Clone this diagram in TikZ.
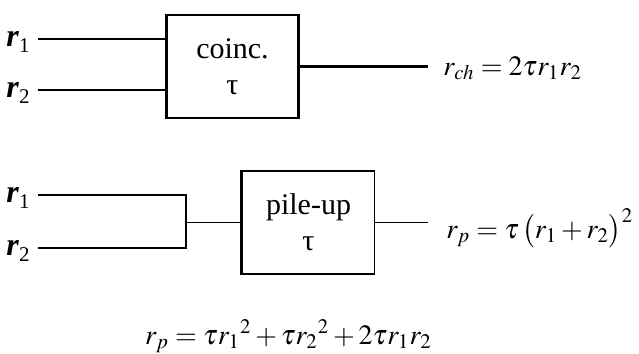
\documentclass[tikz,border=0pt]{standalone}
\usepackage{mathptmx}
\usepackage{fontspec}
\setmainfont{Liberation Serif}
\usetikzlibrary{positioning, calc}
\newcommand{\rin}[1]{\textbf{\textit{r}}\raisebox{-0.45ex}{\fontsize{10.5}{11}\selectfont #1}}

\begin{document}
\begin{tikzpicture}[x=0.5pt, y=-0.5pt,
  gate/.style={rectangle, draw=black, line width=#1, fill=white, align=center,
               minimum width=66pt, minimum height=51.5pt, inner sep=2pt,
               font=\fontsize{15}{18}\selectfont},
  gate/.default=1.2pt,
  wire/.style={line width=#1, black},
  wire/.default=0.8pt,
  inlbl/.style={anchor=east, inner sep=0pt, font=\fontsize{16}{20}\selectfont},
  eqn/.style={anchor=base west, inner sep=0pt, font=\fontsize{14}{17}\selectfont}
]
  \useasboundingbox (0,0) rectangle (639,354);

  % coincidence stage
  \node[gate] (coinc) at (232.5,66.5) {coinc.\\τ};
  \coordinate (inA) at (38,39);
  \coordinate (inB) at (38,90);
  \coordinate (outA) at (428,66.5);
  \node[inlbl] (rA) at ($(inA)+(-8,3)$) {\rin{1}};
  \node[inlbl] (rB) at ($(inB)+(-8,3)$) {\rin{2}};
  \draw[wire] (inA) -- (inA -| coinc.west);
  \draw[wire] (inB) -- (inB -| coinc.west);
  \draw[wire=1.1pt] (coinc.east) -- (outA);
  \node[eqn] (rch) at (443,75) {$r_{ch} = 2\tau r_1 r_2$};

  % pile-up stage
  \node[gate=0.8pt] (pile) at (308.5,222.5) {pile-up\\τ};
  \draw[line width=1.3pt] (pile.north west) -- (pile.south west);
  \coordinate (inC) at (38,195);
  \coordinate (inD) at (38,248);
  \coordinate (join) at (186,222.5);
  \coordinate (outB) at (428,222.5);
  \node[inlbl] (rC) at ($(inC)+(-8,3)$) {\rin{1}};
  \node[inlbl] (rD) at ($(inD)+(-8,3)$) {\rin{2}};
  \draw[wire=0.7pt] (inC) -| (join) |- (inD);
  \draw[wire=0.6pt] (join) -- (pile.west);
  \draw[wire=0.6pt] (pile.east) -- (outB);
  \node[eqn] (rp) at (446,238) {$r_p = \tau\,\bigl(r_1 + r_2\bigr)^2$};

  % expansion
  \node[eqn, anchor=base] (rsum) at (288.5,344)
    {$r_p = \tau r_1{}^2 + \tau r_2{}^2 + 2\tau r_1 r_2$};
\end{tikzpicture}
\end{document}
